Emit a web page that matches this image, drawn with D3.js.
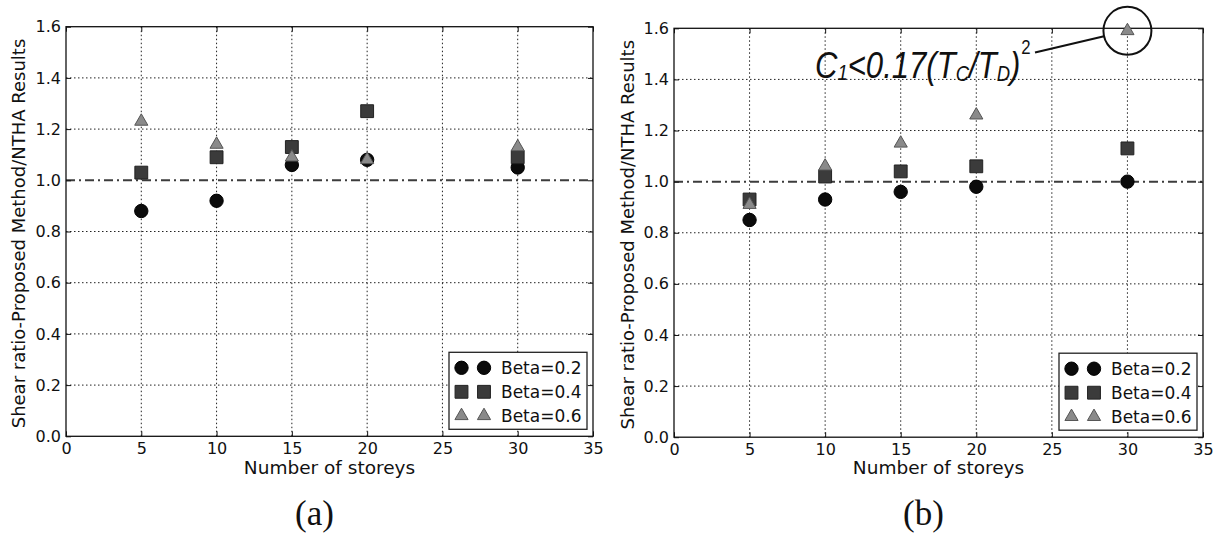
<!DOCTYPE html>
<html>
<head>
<meta charset="utf-8">
<script src="https://cdn.jsdelivr.net/npm/d3@7"></script>
<style>
  body { margin: 0; background: #fff; }
  svg text { font-family: "DejaVu Sans", sans-serif; fill: #111; }
</style>
</head>
<body>
<div id="chart"></div>
<script>
// data
const storeys = [5, 10, 15, 20, 30];
const seriesNames = ['Beta=0.2', 'Beta=0.4', 'Beta=0.6'];
const panelA = [
  [0.88, 0.92, 1.06, 1.08, 1.05],
  [1.03, 1.09, 1.13, 1.27, 1.09],
  [1.23, 1.14, 1.09, 1.08, 1.13]
];
const panelB = [
  [0.85, 0.93, 0.96, 0.98, 1.00],
  [0.93, 1.02, 1.04, 1.06, 1.13],
  [0.91, 1.06, 1.15, 1.26, 1.59]
];
const xTicks = [0, 5, 10, 15, 20, 25, 30, 35];
const yTicks = [0.0, 0.2, 0.4, 0.6, 0.8, 1.0, 1.2, 1.4, 1.6];

const width = 1219, height = 537;

const svg = d3.select('div#chart').append('svg')
  .attr('width', width)
  .attr('height', height);

const markers = [
  { type: d3.symbolCircle, size: 140, fill: '#0b0b0b', stroke: '#000' },
  { type: d3.symbolSquare, size: 165, fill: '#3b3b3b', stroke: '#222' },
  { type: d3.symbolTriangle, size: 75, fill: '#8a8a8a', stroke: '#555' }
];

const drawPanel = (opts) => {
  const { left, right, top, bottom, data, label, labelX } = opts;

  const x = d3.scaleLinear().domain([0, 35]).range([left, right]);
  const y = d3.scaleLinear().domain([0, 1.6]).range([bottom, top]);

  const g = svg.append('g');

  // dotted grid
  g.selectAll('.vgrid')
    .data(xTicks.slice(1, -1))
    .join('line')
    .attr('x1', d => x(d)).attr('x2', d => x(d))
    .attr('y1', top).attr('y2', bottom)
    .attr('stroke', '#222').attr('stroke-width', 1)
    .attr('stroke-dasharray', '1.5,2.5');
  g.selectAll('.hgrid')
    .data(yTicks.slice(1, -1).filter(d => d !== 1.0))
    .join('line')
    .attr('x1', left).attr('x2', right)
    .attr('y1', d => y(d)).attr('y2', d => y(d))
    .attr('stroke', '#222').attr('stroke-width', 1)
    .attr('stroke-dasharray', '1.5,2.5');

  // reference line at 1.0
  g.append('line')
    .attr('x1', left).attr('x2', right)
    .attr('y1', y(1)).attr('y2', y(1))
    .attr('stroke', '#3c3c3c').attr('stroke-width', 2)
    .attr('stroke-dasharray', '9,4,2,4');

  // axes, ticks inside on all sides
  const tick = 5;
  g.append('g').attr('transform', `translate(0,${bottom})`)
    .call(d3.axisBottom(x).tickValues(xTicks).tickSizeInner(-tick).tickSizeOuter(0).tickPadding(6.5))
    .call(a => a.select('.domain').remove());
  g.append('g').attr('transform', `translate(0,${top})`)
    .call(d3.axisTop(x).tickValues(xTicks).tickSizeInner(-tick).tickSizeOuter(0).tickFormat(''))
    .call(a => a.select('.domain').remove());
  g.append('g').attr('transform', `translate(${left},0)`)
    .call(d3.axisLeft(y).tickValues(yTicks).tickSizeInner(-tick).tickSizeOuter(0).tickPadding(5).tickFormat(d3.format('.1f')))
    .call(a => a.select('.domain').remove());
  g.append('g').attr('transform', `translate(${right},0)`)
    .call(d3.axisRight(y).tickValues(yTicks).tickSizeInner(-tick).tickSizeOuter(0).tickFormat(''))
    .call(a => a.select('.domain').remove());
  g.selectAll('.tick line').attr('stroke', '#111');
  g.selectAll('.tick text').attr('font-size', 16).attr('font-family', 'DejaVu Sans').attr('fill', '#111');

  g.append('rect')
    .attr('x', left).attr('y', top)
    .attr('width', right - left).attr('height', bottom - top)
    .attr('fill', 'none').attr('stroke', '#111').attr('stroke-width', 1.3);

  // points
  data.forEach((vals, i) => {
    const m = markers[i];
    g.selectAll('.pt' + i)
      .data(vals.map((v, j) => ({ s: storeys[j], v })))
      .join('path')
      .attr('transform', d => `translate(${x(d.s)},${y(d.v)})`)
      .attr('d', d3.symbol().type(m.type).size(m.size))
      .attr('fill', m.fill).attr('stroke', m.stroke).attr('stroke-width', 1);
  });

  // legend
  const lw = 138, lh = 77;
  const lx = right - 6 - lw, ly = bottom - 7 - lh;
  const leg = g.append('g').attr('transform', `translate(${lx},${ly})`);
  leg.append('rect').attr('width', lw).attr('height', lh)
    .attr('fill', '#fff').attr('stroke', '#222').attr('stroke-width', 1.3);
  seriesNames.forEach((name, i) => {
    const m = markers[i];
    const yy = 15.5 + i * 24;
    [12.5, 35].forEach(xx => {
      leg.append('path')
        .attr('transform', `translate(${xx},${yy})`)
        .attr('d', d3.symbol().type(m.type).size(m.size))
        .attr('fill', m.fill).attr('stroke', m.stroke);
    });
    leg.append('text').attr('x', 52).attr('y', yy).attr('dy', '0.35em')
      .attr('font-size', 17).text(name);
  });

  // axis titles
  g.append('text')
    .attr('x', (left + right) / 2).attr('y', 474)
    .attr('text-anchor', 'middle').attr('font-size', 18.5)
    .text('Number of storeys');
  g.append('text')
    .attr('transform', `translate(${labelX},${(top + bottom) / 2 + 2}) rotate(-90)`)
    .attr('text-anchor', 'middle').attr('dy', '0.35em').attr('font-size', 18)
    .text('Shear ratio-Proposed Method/NTHA Results');

  g.append('text')
    .attr('x', (left + right) / 2 - 15).attr('y', 525)
    .attr('text-anchor', 'middle')
    .attr('font-size', 35)
    .style('font-family', '"Liberation Serif", serif')
    .text(label);

  return { g, x, y };
};

drawPanel({ left: 66, right: 593, top: 26.7, bottom: 436.3, data: panelA, label: '(a)', labelX: 19 });
const pb = drawPanel({ left: 674, right: 1203, top: 28.3, bottom: 437.2, data: panelB, label: '(b)', labelX: 628 });

// annotation on panel (b)
const cx = pb.x(30), cy = pb.y(1.59), r = 24;
pb.g.append('circle')
  .attr('cx', cx).attr('cy', cy).attr('r', r)
  .attr('fill', 'none').attr('stroke', '#111').attr('stroke-width', 2);

const ann = pb.g.append('text')
  .attr('transform', 'translate(815,78) scale(0.84,1)')
  .attr('font-size', 37)
  .style('font-family', '"Liberation Sans", sans-serif')
  .attr('font-style', 'italic');
ann.append('tspan').text('C');
ann.append('tspan').attr('font-size', 22).attr('dy', 2).text('1');
ann.append('tspan').attr('dy', -2).text('<0.17(');
ann.append('tspan').text('T');
ann.append('tspan').attr('font-size', 22).attr('dy', 3).text('C');
ann.append('tspan').attr('dy', -3).text('/');
ann.append('tspan').text('T');
ann.append('tspan').attr('font-size', 22).attr('dy', 3).text('D');
ann.append('tspan').attr('dy', -3).text(')');
ann.append('tspan').attr('font-size', 20).attr('dy', -24).attr('dx', 1).attr('font-style', 'normal').text('2');

const sx = 1035, sy = 52.5;
const ang = Math.atan2(cy - sy, cx - sx);
pb.g.append('line')
  .attr('x1', sx).attr('y1', sy)
  .attr('x2', cx - r * Math.cos(ang)).attr('y2', cy - r * Math.sin(ang))
  .attr('stroke', '#111').attr('stroke-width', 2);
</script>
</body>
</html>
